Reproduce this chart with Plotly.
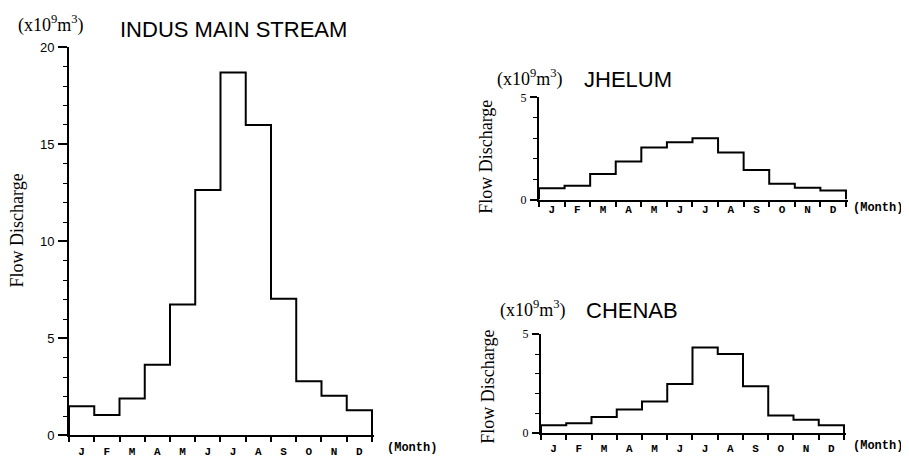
import plotly.graph_objects as go

months = ["J", "F", "M", "A", "M", "J", "J", "A", "S", "O", "N", "D"]
indus = [1.5, 1.05, 1.9, 3.65, 6.75, 12.65, 18.7, 16.0, 7.05, 2.8, 2.05, 1.3]
jhelum = [0.55, 0.68, 1.25, 1.87, 2.55, 2.8, 3.0, 2.3, 1.45, 0.77, 0.58, 0.45]
chenab = [0.4, 0.5, 0.82, 1.2, 1.6, 2.48, 4.33, 4.0, 2.37, 0.9, 0.68, 0.4]

W, H = 909, 459
X_OFF, Y_A, Y_B = 8.0, 0.972, 14.5
def px(x):
    return (x - X_OFF) / W
def py(y):
    return 1 - ((y - Y_B) / Y_A) / H

fig = go.Figure()

def step(vals):
    xs = [0] + list(range(0, 13)) + [12]
    ys = [0] + list(vals) + [vals[-1], 0]
    return xs, ys

for i, vals in enumerate([indus, jhelum, chenab]):
    xs, ys = step(vals)
    sfx = "" if i == 0 else str(i + 1)
    fig.add_trace(go.Scatter(
        x=xs, y=ys, mode="lines", line=dict(shape="hv", color="black", width=2),
        xaxis="x" + sfx, yaxis="y" + sfx, showlegend=False, hoverinfo="skip",
    ))

serif = "Liberation Serif, DejaVu Serif, serif"
sans = "Liberation Sans, Arial, sans-serif"
monofam = "Liberation Mono, DejaVu Sans Mono, monospace"

def xaxis(dom, standoff):
    return dict(
        domain=dom, range=[0, 12.06], showgrid=False, zeroline=False,
        showline=True, linecolor="black", linewidth=2,
        tickmode="array", tickvals=[i + 0.5 for i in range(12)], ticktext=months,
        ticks="", ticklabelstandoff=standoff,
        tickfont=dict(family=monofam, size=11, color="black", weight="bold"),
        minor=dict(tickmode="array", tickvals=list(range(13)), ticks="outside",
                   ticklen=5, tickwidth=1.5, tickcolor="black", showgrid=False),
    )

def yaxis(dom, top, major, anchor, fam, fsize, tlen):
    return dict(
        domain=dom, range=[0, top], showgrid=False, zeroline=False,
        showline=True, linecolor="black", linewidth=2, anchor=anchor,
        tickmode="array", tickvals=major, ticktext=[str(v) for v in major],
        ticks="outside", ticklen=tlen, tickwidth=2, tickcolor="black",
        ticklabelstandoff=1,
        tickfont=dict(family=fam, size=fsize, color="black"),
        minor=dict(tickmode="linear", tick0=0, dtick=1, ticks="outside",
                   ticklen=4, tickwidth=1, tickcolor="black", showgrid=False),
    )

fig.update_layout(
    width=W, height=H, margin=dict(l=0, r=0, t=0, b=0),
    paper_bgcolor="white", plot_bgcolor="white",
    xaxis=dict(xaxis([px(69), px(373.5)], 4), anchor="y"),
    yaxis=yaxis([py(437), py(47)], 20, [0, 5, 10, 15, 20], "x", sans, 13, 9),
    xaxis2=dict(xaxis([px(539), px(847.5)], -2), anchor="y2"),
    yaxis2=yaxis([py(200), py(97.3)], 5, [0, 5], "x2", serif, 12, 7),
    xaxis3=dict(xaxis([px(541), px(845.5)], 4), anchor="y3"),
    yaxis3=yaxis([py(434.7), py(335.3)], 5, [0, 5], "x3", serif, 12, 7),
)

unit = "(x10<sup>9</sup>m<sup>3</sup>)"
mono12 = dict(family=monofam, size=12, weight="bold")
ann = [
    dict(text=unit, x=51, y=24, font=dict(family=serif, size=18)),
    dict(text="INDUS MAIN STREAM", x=233.5, y=29.5, font=dict(family=sans, size=22)),
    dict(text=unit, x=530, y=78, font=dict(family=serif, size=18)),
    dict(text="JHELUM", x=628, y=79, font=dict(family=sans, size=22)),
    dict(text=unit, x=532.5, y=310, font=dict(family=serif, size=18)),
    dict(text="CHENAB", x=632, y=311.5, font=dict(family=sans, size=22)),
    dict(text="Flow Discharge", x=17, y=231, textangle=-90, font=dict(family=serif, size=18)),
    dict(text="Flow Discharge", x=486.5, y=157.5, textangle=-90, font=dict(family=serif, size=18)),
    dict(text="Flow Discharge", x=488, y=388, textangle=-90, font=dict(family=serif, size=18)),
    dict(text="(Month)", x=411.5, y=450, font=mono12),
    dict(text="(Month)", x=878, y=208, font=mono12),
    dict(text="(Month)", x=878, y=448, font=mono12),
]
annots = []
for a in ann:
    f = dict(a["font"])
    f["color"] = "black"
    annots.append(dict(a, x=px(a["x"]), y=py(a["y"]), xref="paper", yref="paper",
                       showarrow=False, xanchor="center", yanchor="middle", font=f))
fig.update_layout(annotations=annots)

fig.write_html("out.html")
